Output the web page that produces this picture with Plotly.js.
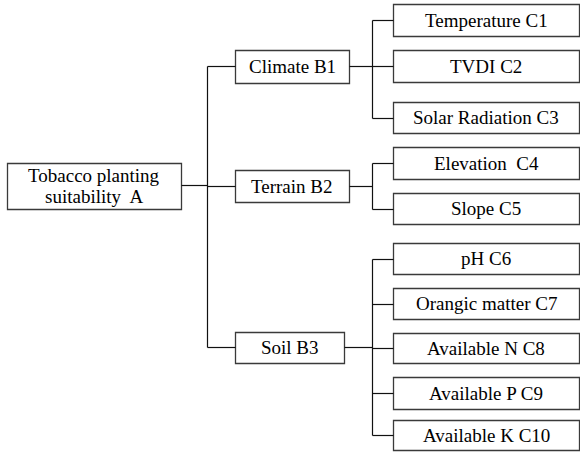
<!DOCTYPE html>
<html>
<head>
<meta charset="utf-8">
<script src="https://cdn.plot.ly/plotly-3.0.1.min.js"></script>
<style>
html,body{margin:0;padding:0;background:#fff;}
#preload{position:absolute;left:0;top:0;font-family:"Liberation Serif";font-size:19px;color:#fff;}
</style>
</head>
<body>
<div id="preload">Tobacco planting suitability Temperature</div>
<div id="chart" style="position:absolute;left:0;top:0;"></div>
<script>
// ---- data (labels & structure) ----
const goalLabel = ["Tobacco planting", "suitability  A"];
const criteriaLabels = ["Climate B1", "Terrain B2", "Soil B3"];
const indicatorLabels = ["Temperature C1", "TVDI C2", "Solar Radiation C3", "Elevation  C4", "Slope C5",
  "pH C6", "Orangic matter C7", "Available N C8", "Available P C9", "Available K C10"];
const indicatorParent = [0, 0, 0, 1, 1, 2, 2, 2, 2, 2];

// ---- layout geometry (pixels in a 580x452 frame, y downward) ----
const W = 580, H = 452;
const goalBox = {x0: 7, x1: 181, y0: 163, y1: 209, cy: 185};
const critX0 = 235, critX1 = [349, 349, 344];
const critTop = [50, 170, 332], critBot = [83, 202, 363], critCy = [66, 186, 347];
const trunkX = 207, branchX = 372;
const indX0 = 393, indX1 = 579;
const indTop = [4, 50, 102, 147, 193, 243, 288, 333, 377, 420];
const indBot = [36, 82, 133, 179, 224, 274, 319, 363, 409, 450];

const BOX_LINE = {color: "#3a3a3a", width: 1.3};
const CONN_LINE = {color: "#111", width: 1.2};
const h = v => Math.round(v) + 0.5;

const shapes = [], annotations = [];
function rect(x0, y0, x1, y1) {
  shapes.push({type: "rect", xref: "x", yref: "y", x0: h(x0), x1: h(x1), y0: h(y0), y1: h(y1), line: BOX_LINE, fillcolor: "rgba(0,0,0,0)"});
}
function seg(x0, y0, x1, y1) {
  shapes.push({type: "line", xref: "x", yref: "y", x0: h(x0), x1: h(x1), y0: h(y0), y1: h(y1), line: CONN_LINE});
}
function label(text, x, y) {
  annotations.push({text: text, x: x, y: y, xref: "x", yref: "y", showarrow: false,
    xanchor: "center", yanchor: "middle",
    font: {family: "Liberation Serif", size: 19, color: "#000"}});
}

rect(goalBox.x0, goalBox.y0, goalBox.x1, goalBox.y1);
const gcx = (goalBox.x0 + goalBox.x1) / 2;
label(goalLabel[0], gcx, goalBox.cy - 10);
label(goalLabel[1], gcx, goalBox.cy + 11);
seg(goalBox.x1, goalBox.cy, trunkX, goalBox.cy);
seg(trunkX, critCy[0], trunkX, critCy[critCy.length - 1]);

criteriaLabels.forEach((lab, i) => {
  rect(critX0, critTop[i], critX1[i], critBot[i]);
  label(lab, (critX0 + critX1[i]) / 2, (critTop[i] + critBot[i]) / 2);
  seg(trunkX, critCy[i], critX0, critCy[i]);
  seg(critX1[i], critCy[i], branchX, critCy[i]);
  const kids = indicatorParent.map((p, k) => p === i ? k : -1).filter(k => k >= 0);
  const cys = kids.map(k => (indTop[k] + indBot[k]) / 2);
  seg(branchX, Math.min(...cys), branchX, Math.max(...cys));
});

indicatorLabels.forEach((lab, k) => {
  const cy = (indTop[k] + indBot[k]) / 2;
  rect(indX0, indTop[k], indX1, indBot[k]);
  label(lab, (indX0 + indX1) / 2, cy);
  seg(branchX, cy, indX0, cy);
});

function draw() {
  Plotly.newPlot("chart", [], {
    width: W, height: H,
    margin: {l: 0, r: 0, t: 0, b: 0},
    paper_bgcolor: "#fff", plot_bgcolor: "#fff",
    font: {family: "Liberation Serif", size: 19, color: "#000"},
    xaxis: {visible: false, range: [0, W]},
    yaxis: {visible: false, range: [H, 0]},
    shapes: shapes, annotations: annotations, showlegend: false
  }, {staticPlot: true});
}
draw();
if (document.fonts && document.fonts.load) {
  document.fonts.load('19px "Liberation Serif"').then(draw, draw);
  document.fonts.ready.then(draw);
}
</script>
</body>
</html>
